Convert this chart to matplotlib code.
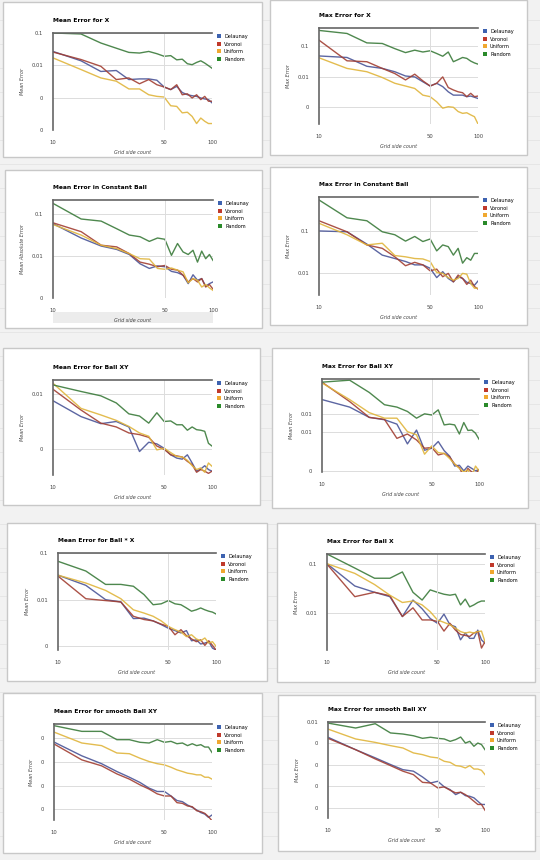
import numpy as np
import matplotlib
matplotlib.use("Agg")
import matplotlib.pyplot as plt
from matplotlib.patches import Rectangle, Patch

# grid side counts (x axis, log scale)
grid_n = [10, 15, 20, 25, 30, 35, 40, 45, 50, 55, 60, 65, 70, 75, 80, 85, 90, 95, 100]

# all error values below are log10(error)
# 1. Mean Error for X
mx_del = [-1.57, -1.86, -2.19, -2.16, -2.44, -2.42, -2.42, -2.46, -2.67, -2.75, -2.65, -2.84, -2.91, -2.94, -2.96, -3.01, -3.04, -3.06, -3.16]
mx_vor = [-1.59, -1.82, -2.03, -2.44, -2.39, -2.57, -2.44, -2.60, -2.67, -2.75, -2.60, -2.91, -2.88, -3.01, -2.91, -3.06, -2.96, -3.11, -3.11]
mx_uni = [-1.77, -2.13, -2.39, -2.49, -2.73, -2.73, -2.91, -2.96, -2.98, -3.25, -3.27, -3.47, -3.45, -3.58, -3.80, -3.63, -3.73, -3.80, -3.80]
mx_ran = [-1.00, -1.03, -1.31, -1.47, -1.60, -1.62, -1.57, -1.64, -1.72, -1.70, -1.83, -1.81, -1.95, -1.98, -1.91, -1.86, -1.93, -2.01, -2.09]

# 2. Max Error for X
xx_del = [-1.32, -1.37, -1.66, -1.73, -1.84, -1.98, -2.01, -2.17, -2.31, -2.22, -2.33, -2.50, -2.61, -2.61, -2.61, -2.66, -2.64, -2.68, -2.72]
xx_vor = [-0.80, -1.48, -1.51, -1.73, -1.90, -2.11, -1.92, -2.14, -2.31, -2.22, -2.01, -2.36, -2.44, -2.50, -2.53, -2.66, -2.55, -2.66, -2.64]
xx_uni = [-1.38, -1.73, -1.84, -2.03, -2.22, -2.31, -2.39, -2.61, -2.66, -2.83, -3.04, -2.99, -3.01, -3.15, -3.21, -3.19, -3.26, -3.32, -3.56]
xx_ran = [-0.48, -0.58, -0.89, -0.91, -1.08, -1.21, -1.13, -1.19, -1.15, -1.24, -1.33, -1.19, -1.51, -1.44, -1.37, -1.40, -1.49, -1.55, -1.59]

# 3. Mean Error in Constant Ball
mc_del = [-1.24, -1.58, -1.77, -1.85, -1.97, -2.19, -2.30, -2.24, -2.26, -2.37, -2.40, -2.46, -2.66, -2.45, -2.58, -2.54, -2.72, -2.66, -2.62]
mc_vor = [-1.22, -1.43, -1.75, -1.79, -1.95, -2.15, -2.20, -2.26, -2.23, -2.32, -2.34, -2.46, -2.62, -2.54, -2.62, -2.54, -2.74, -2.68, -2.79]
mc_uni = [-1.26, -1.51, -1.75, -1.83, -1.95, -2.07, -2.08, -2.30, -2.32, -2.29, -2.34, -2.38, -2.64, -2.54, -2.58, -2.74, -2.68, -2.76, -2.82]
mc_ran = [-0.76, -1.13, -1.18, -1.36, -1.51, -1.55, -1.66, -1.58, -1.61, -1.99, -1.71, -1.91, -1.97, -1.87, -2.15, -1.89, -2.07, -1.97, -2.11]

# 4. Max Error in Constant Ball
xc_del = [-1.00, -1.02, -1.31, -1.57, -1.65, -1.72, -1.80, -1.80, -1.88, -2.10, -1.96, -2.12, -2.20, -2.08, -2.12, -2.21, -2.24, -2.28, -2.18]
xc_vor = [-0.76, -1.02, -1.33, -1.41, -1.61, -1.82, -1.74, -1.80, -1.94, -1.90, -2.08, -2.00, -2.20, -2.04, -2.12, -2.26, -2.16, -2.31, -2.37]
xc_uni = [-0.82, -1.09, -1.33, -1.29, -1.58, -1.61, -1.65, -1.66, -1.72, -1.98, -2.00, -2.10, -2.16, -2.12, -2.00, -2.02, -2.24, -2.35, -2.35]
xc_ran = [-0.27, -0.69, -0.76, -1.02, -1.09, -1.24, -1.13, -1.25, -1.19, -1.47, -1.33, -1.37, -1.57, -1.41, -1.76, -1.63, -1.69, -1.53, -1.53]

# 5. Mean Error for Ball XY
mb_del = [-2.12, -2.41, -2.54, -2.50, -2.60, -3.05, -2.88, -2.91, -2.99, -3.11, -3.17, -3.19, -3.11, -3.26, -3.41, -3.37, -3.31, -3.38, -3.41]
mb_vor = [-1.91, -2.29, -2.53, -2.60, -2.71, -2.74, -2.79, -2.95, -3.01, -3.11, -3.13, -3.15, -3.23, -3.29, -3.43, -3.38, -3.41, -3.45, -3.41]
mb_uni = [-1.80, -2.26, -2.38, -2.48, -2.59, -2.71, -2.77, -3.02, -2.99, -3.07, -3.14, -3.15, -3.21, -3.31, -3.38, -3.35, -3.43, -3.26, -3.32]
mb_ran = [-1.83, -1.95, -2.03, -2.16, -2.36, -2.40, -2.53, -2.34, -2.50, -2.49, -2.56, -2.56, -2.66, -2.60, -2.65, -2.66, -2.68, -2.90, -2.95]

# 6. Max Error for Ball XY
xb_del = [-1.19, -1.38, -1.64, -1.70, -1.81, -2.31, -1.96, -2.47, -2.42, -2.25, -2.48, -2.62, -2.87, -2.85, -2.99, -2.87, -2.93, -2.99, -2.96]
xb_vor = [-0.75, -1.24, -1.64, -1.69, -2.17, -2.06, -2.21, -2.42, -2.40, -2.59, -2.55, -2.64, -2.82, -2.91, -3.14, -2.93, -3.02, -3.06, -2.96]
xb_uni = [-0.77, -1.19, -1.52, -1.66, -1.66, -2.00, -2.08, -2.57, -2.36, -2.53, -2.55, -2.68, -2.82, -2.93, -3.02, -2.97, -3.13, -2.87, -2.99]
xb_ran = [-0.75, -0.70, -1.01, -1.32, -1.38, -1.49, -1.66, -1.55, -1.58, -1.45, -1.83, -1.81, -1.83, -2.06, -1.77, -1.97, -1.96, -2.04, -2.19]

# 7. Mean Error for Ball * X
mbx_del = [-1.47, -1.69, -2.00, -2.05, -2.41, -2.40, -2.46, -2.54, -2.62, -2.67, -2.72, -2.67, -2.89, -2.87, -2.96, -2.94, -2.91, -3.05, -3.09]
mbx_vor = [-1.49, -1.98, -2.02, -2.05, -2.36, -2.43, -2.46, -2.53, -2.58, -2.76, -2.65, -2.78, -2.85, -2.91, -2.87, -2.99, -2.89, -2.99, -3.09]
mbx_uni = [-1.47, -1.64, -1.80, -1.98, -2.22, -2.29, -2.36, -2.46, -2.58, -2.65, -2.70, -2.80, -2.76, -2.85, -2.89, -2.83, -2.94, -2.91, -3.01]
mbx_ran = [-1.17, -1.38, -1.67, -1.67, -1.71, -1.89, -2.11, -2.09, -2.02, -2.09, -2.11, -2.18, -2.25, -2.22, -2.18, -2.22, -2.25, -2.27, -2.31]

# 8. Max Error for Ball X
xbx_del = [-0.99, -1.45, -1.58, -1.67, -2.08, -1.74, -1.92, -2.12, -2.22, -2.03, -2.25, -2.29, -2.56, -2.42, -2.53, -2.53, -2.36, -2.56, -2.63]
xbx_vor = [-1.00, -1.67, -1.58, -1.65, -2.08, -1.90, -2.15, -2.15, -2.18, -2.38, -2.22, -2.36, -2.45, -2.47, -2.49, -2.42, -2.39, -2.73, -2.60]
xbx_uni = [-0.99, -1.19, -1.42, -1.64, -1.79, -1.76, -1.84, -1.98, -2.15, -2.20, -2.25, -2.32, -2.39, -2.42, -2.40, -2.42, -2.39, -2.38, -2.60]
xbx_ran = [-0.79, -1.08, -1.29, -1.29, -1.16, -1.58, -1.74, -1.53, -1.58, -1.62, -1.64, -1.62, -1.84, -1.72, -1.88, -1.84, -1.79, -1.76, -1.76]

# 9. Mean Error for smooth Ball XY
ms_del = [-3.17, -3.75, -4.08, -4.41, -4.65, -4.87, -5.11, -5.25, -5.25, -5.44, -5.63, -5.68, -5.82, -5.92, -6.03, -6.14, -6.20, -6.34, -6.24]
ms_vor = [-3.25, -3.92, -4.17, -4.51, -4.73, -4.97, -5.15, -5.35, -5.44, -5.44, -5.72, -5.75, -5.86, -5.89, -6.06, -6.10, -6.17, -6.31, -6.48]
ms_uni = [-2.75, -3.21, -3.32, -3.63, -3.66, -3.85, -3.99, -4.08, -4.13, -4.23, -4.34, -4.41, -4.48, -4.51, -4.55, -4.55, -4.65, -4.65, -4.73]
ms_ran = [-2.48, -2.72, -2.72, -3.07, -3.07, -3.18, -3.21, -3.07, -3.18, -3.14, -3.24, -3.21, -3.32, -3.24, -3.32, -3.28, -3.38, -3.38, -3.61]

# 10. Max Error for smooth Ball XY
xs_del = [-2.71, -3.29, -3.67, -3.98, -4.22, -4.29, -4.56, -4.84, -4.76, -5.02, -5.15, -5.38, -5.27, -5.43, -5.46, -5.53, -5.69, -5.84, -5.84]
xs_vor = [-2.76, -3.29, -3.72, -4.03, -4.29, -4.45, -4.81, -4.84, -5.07, -5.02, -5.18, -5.30, -5.27, -5.38, -5.53, -5.69, -5.84, -5.84, -6.11]
xs_uni = [-2.33, -2.79, -2.95, -3.10, -3.21, -3.44, -3.52, -3.63, -3.67, -3.83, -3.88, -4.03, -4.06, -4.14, -4.03, -4.19, -4.19, -4.25, -4.45]
xs_ran = [-2.05, -2.28, -2.08, -2.51, -2.56, -2.64, -2.76, -2.71, -2.76, -2.79, -2.90, -2.82, -2.70, -2.98, -2.90, -3.13, -2.98, -3.05, -3.29]

series_names = ["Delaunay", "Voronoi", "Uniform", "Random"]
titles = ["Mean Error for X", "Max Error for X",
          "Mean Error in Constant Ball", "Max Error in Constant Ball",
          "Mean Error for Ball XY", "Max Error for Ball XY",
          "Mean Error for Ball * X", "Max Error for Ball X",
          "Mean Error for smooth Ball XY", "Max Error for smooth Ball XY"]
ylabels = ["Mean Error", "Max Error", "Mean Absolute Error", "Max Error", "Mean Error",
           "Mean Error", "Mean Error", "Max Error", "Mean Error", "Max Error"]
# y tick positions (log10) and the rounded labels the charts show
ytick_pos = [[-1, -2, -3, -4], [-1, -2, -3], [-1, -2, -3], [-1, -2], [-2, -3],
             [-1.55, -2, -3], [-1, -2, -3], [-1, -2], [-3, -4, -5, -6], [-2, -3, -4, -5, -6]]
ytick_lab = [["0.1", "0.01", "0", "0"], ["0.1", "0.01", "0"], ["0.1", "0.01", "0"],
             ["0.1", "0.01"], ["0.01", "0"], ["0.01", "0.01", "0"], ["0.1", "0.01", "0"],
             ["0.1", "0.01"], ["0", "0", "0", "0"], ["0.01", "0", "0", "0", "0"]]
ylims = [(-4, -1), (-3.56, -0.40), (-3.0, -0.68), (-2.51, -0.20), (-3.48, -1.74),
         (-3.02, -0.67), (-3.09, -0.99), (-2.77, -0.79), (-6.45, -2.41), (-6.47, -2.0)]

panel_data = [
    (mx_del, mx_vor, mx_uni, mx_ran), (xx_del, xx_vor, xx_uni, xx_ran),
    (mc_del, mc_vor, mc_uni, mc_ran), (xc_del, xc_vor, xc_uni, xc_ran),
    (mb_del, mb_vor, mb_uni, mb_ran), (xb_del, xb_vor, xb_uni, xb_ran),
    (mbx_del, mbx_vor, mbx_uni, mbx_ran), (xbx_del, xbx_vor, xbx_uni, xbx_ran),
    (ms_del, ms_vor, ms_uni, ms_ran), (xs_del, xs_vor, xs_uni, xs_ran),
]

# layout in pixels of the 540x860 collage: plot box and card box
plot_boxes = [(53, 33, 212, 130), (319, 28, 478, 124),
              (53, 200, 213, 298), (319, 197, 478, 295),
              (53, 380, 212, 475), (322, 379, 479, 472),
              (58, 553, 216, 650), (327, 554, 485, 650),
              (54, 724, 212, 820), (328, 722, 485, 818)]
card_boxes = [(3, 2, 262, 157), (270, 0, 527, 155),
              (5, 170, 262, 328), (270, 167, 527, 325),
              (3, 348, 260, 505), (272, 348, 528, 508),
              (7, 523, 267, 681), (277, 523, 535, 682),
              (3, 693, 262, 853), (278, 695, 535, 851)]

line_cols = ["#4a5598", "#a23f33", "#e0b53c", "#3b7b3b"]
legend_cols = ["#3d62b0", "#c0392b", "#f0a830", "#2a8a2a"]

W, H = 540, 860
fig = plt.figure(figsize=(W / 100, H / 100), dpi=100)
fig.patch.set_facecolor("#f2f2f2")

# faint spreadsheet lines behind the cards
for yy in range(20, H, 24):
    fig.add_artist(plt.Line2D([0, 1], [1 - yy / H, 1 - yy / H], color="#e4e4e4", lw=0.6, zorder=0))

for i in range(10):
    cx0, cy0, cx1, cy1 = card_boxes[i]
    fig.add_artist(Rectangle((cx0 / W, 1 - cy1 / H), (cx1 - cx0) / W, (cy1 - cy0) / H,
                             facecolor="white", edgecolor="#c8c8c8", lw=1.0, zorder=1))

    x0, y0, x1, y1 = plot_boxes[i]
    ax = fig.add_axes([x0 / W, 1 - y1 / H, (x1 - x0) / W, (y1 - y0) / H], zorder=2)
    ax.set_facecolor("white")

    for vals, col in zip(panel_data[i], line_cols):
        ax.plot(grid_n, 10 ** np.array(vals), color=col, lw=1.0, alpha=0.9)

    ax.set_xscale("log")
    ax.set_yscale("log")
    ax.set_xlim(10, 100)
    ax.set_ylim(10 ** ylims[i][0], 10 ** ylims[i][1])
    ax.set_xticks([10, 50, 100])
    ax.set_xticklabels(["10", "50", "100"])
    ax.set_yticks([10 ** p for p in ytick_pos[i]])
    ax.set_yticklabels(ytick_lab[i])
    ax.minorticks_off()
    ax.tick_params(length=0, labelsize=3.8, colors="#444444", pad=7)

    ax.grid(True, axis="y", color="#dcdcdc", lw=0.7)
    ax.axvline(50, color="#dcdcdc", lw=0.7)
    for s in ["right", "bottom"]:
        ax.spines[s].set_visible(False)
    ax.spines["top"].set_color("#666666")
    ax.spines["top"].set_linewidth(1.2)
    ax.spines["left"].set_color("#666666")
    ax.spines["left"].set_linewidth(1.2)

    ax.set_title(titles[i], loc="left", fontsize=4.3, fontweight="bold", pad=8)
    ax.set_ylabel(ylabels[i], fontsize=3.5, style="italic", color="#444444", labelpad=5)
    ax.set_xlabel("Grid side count", fontsize=3.5, style="italic", color="#444444", labelpad=4)

    if i == 2:
        # grey strip behind the x label in this one
        ax.add_patch(Rectangle((0, -0.26), 1, 0.12, transform=ax.transAxes,
                               facecolor="#ececec", edgecolor="none", clip_on=False, zorder=0))

    handles = [Patch(facecolor=c, edgecolor="none") for c in legend_cols]
    ax.legend(handles, series_names, loc="upper left", bbox_to_anchor=(1.01, 1.02),
              frameon=False, fontsize=3.6, handlelength=0.9, handleheight=0.9,
              handletextpad=0.6, labelspacing=0.5, borderaxespad=0.2)

fig.savefig("out.png", dpi=100, facecolor=fig.get_facecolor())
